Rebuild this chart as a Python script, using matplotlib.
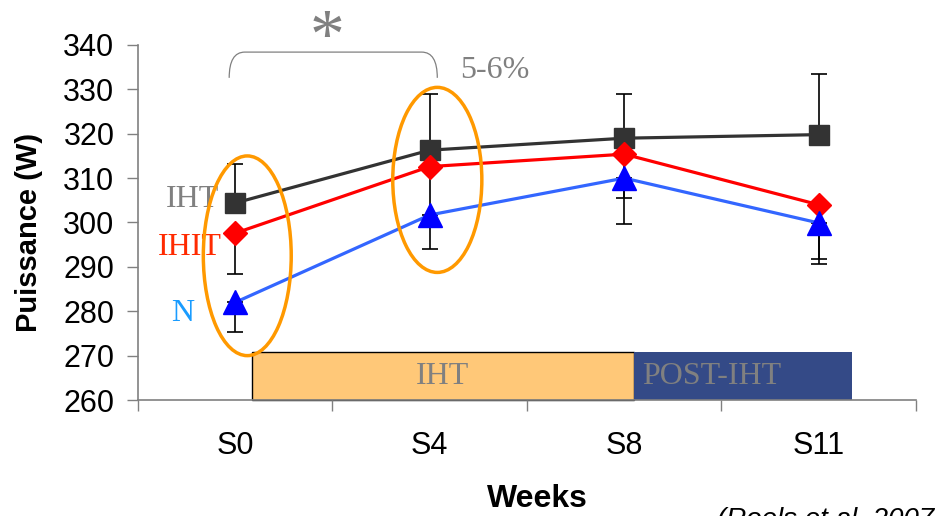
import matplotlib
matplotlib.use("Agg")
import matplotlib.pyplot as plt
from matplotlib.patches import Ellipse, Rectangle, PathPatch
from matplotlib.path import Path
import numpy as np

weeks = ['S0', 'S4', 'S8', 'S11']

iht = [304.4, 316.3, 319.0, 319.8]
iht_err_up = [8.7, 12.7, 10.0, 13.6]

ihit = [297.6, 312.6, 315.4, 304.0]
ihit_err_down = [9.2, 12.0, 9.9, 13.4]

n = [282.0, 301.7, 310.0, 299.9]
n_err_down = [6.6, 7.7, 10.3, 8.2]

y_ticks = [260, 270, 280, 290, 300, 310, 320, 330, 340]

serif = 'Liberation Serif'
sans = 'Liberation Sans'
gray = '#808080'

fig = plt.figure(figsize=(9.36, 5.16), dpi=100)
ax = fig.add_axes([0.1474, 0.2248, 0.8312, 0.688])
x = np.arange(len(weeks))

# error bars (one-sided, like the Excel original)
ax.errorbar(x, iht, yerr=[np.zeros(4), iht_err_up], fmt='none', ecolor='black',
            elinewidth=1.2, capsize=6, capthick=1.2, zorder=2)
ax.errorbar(x, ihit, yerr=[ihit_err_down, np.zeros(4)], fmt='none', ecolor='black',
            elinewidth=1.2, capsize=6, capthick=1.2, zorder=2)
ax.errorbar(x, n, yerr=[n_err_down, np.zeros(4)], fmt='none', ecolor='black',
            elinewidth=1.2, capsize=6, capthick=1.2, zorder=2)

ax.plot(x, iht, color='#333333', lw=2.3, marker='s', ms=15, mfc='#333333', mec='#333333', zorder=4)
ax.plot(x, ihit, color='#ff0000', lw=2.3, marker='D', ms=12.5, mfc='#ff0000', mec='#ff0000', zorder=5)
ax.plot(x, n, color='#3366ff', lw=2.3, marker='^', ms=17, mfc='#0000ff', mec='#0000ff', zorder=6)

ax.set_xlim(-0.5, 3.5)
ax.set_ylim(260, 340)
ax.set_yticks(y_ticks)
ax.set_yticklabels([str(v) for v in y_ticks], fontsize=22, family=sans)
ax.set_xticks(x)
ax.set_xticklabels(weeks, fontsize=22, family=sans)
ax.set_xticks([-0.5, 0.5, 1.5, 2.5, 3.5], minor=True)
ax.tick_params(axis='x', which='major', length=0, pad=22)
ax.tick_params(axis='x', which='minor', length=8, color=gray, width=1)
ax.tick_params(axis='y', length=8, color=gray, width=1, pad=9)
for s in ['top', 'right']:
    ax.spines[s].set_visible(False)
for s in ['left', 'bottom']:
    ax.spines[s].set_color(gray)
    ax.spines[s].set_linewidth(1.2)

ax.set_ylabel('Puissance (W)', fontsize=21, fontweight='bold', family=sans)
ax.yaxis.set_label_coords(-0.122, 0.473)
fig.text(537 / 936, 1 - 499 / 516, 'Weeks', fontsize=23, fontweight='bold', family=sans,
         ha='center', va='center')
fig.text(717 / 936, 1 - 507 / 516, '(Roels et al. 2007)', fontsize=20, style='italic',
         family=sans, ha='left', va='top')

# phase boxes
ax.add_patch(Rectangle((0.087, 260), 2.05 - 0.087, 10.8, facecolor='#ffc878',
                       edgecolor='black', lw=1, zorder=1, clip_on=False))
ax.add_patch(Rectangle((2.05, 260), 3.17 - 2.05, 10.8, facecolor='#344a87',
                       edgecolor='none', zorder=1, clip_on=False))
ax.text(1.064, 265.2, 'IHT', fontsize=23, family=serif, color=gray, ha='center', va='center')
ax.text(2.45, 265.2, 'POST-IHT', fontsize=23, family=serif, color=gray, ha='center', va='center')

# ellipses
ax.add_patch(Ellipse((0.062, 292.5), 0.452, 45, fill=False, edgecolor='#ff9900', lw=2.5, zorder=7))
ax.add_patch(Ellipse((1.039, 309.6), 0.458, 41.7, fill=False, edgecolor='#ff9900', lw=2.5, zorder=7))

# bracket
x0, x1, yb, yt = -0.031, 1.039, 332.6, 338.4
verts = [(x0, yb), (x0, yt), (x0 + 0.08, yt), (x1 - 0.08, yt), (x1, yt), (x1, yb)]
codes = [Path.MOVETO, Path.CURVE3, Path.CURVE3, Path.LINETO, Path.CURVE3, Path.CURVE3]
ax.add_patch(PathPatch(Path(verts, codes), fill=False, edgecolor=gray, lw=0.9, clip_on=False))
ax.text(0.474, 341.0, '*', fontsize=50, family=serif, color=gray, ha='center', va='center',
        clip_on=False)
ax.text(1.157, 334.2, '5-6%', fontsize=23, family=serif, color=gray, ha='left', va='center')

# series labels
ax.text(-0.085, 305.1, 'IHT', fontsize=23, family=serif, color=gray, ha='right', va='center')
ax.text(-0.067, 294.3, 'IHIT', fontsize=23, family=serif, color='#ff2a00', ha='right', va='center')
ax.text(-0.272, 279.6, 'N', fontsize=23, family=serif, color='#1a9cff', ha='center', va='center')

fig.savefig('out.png', dpi=100)
